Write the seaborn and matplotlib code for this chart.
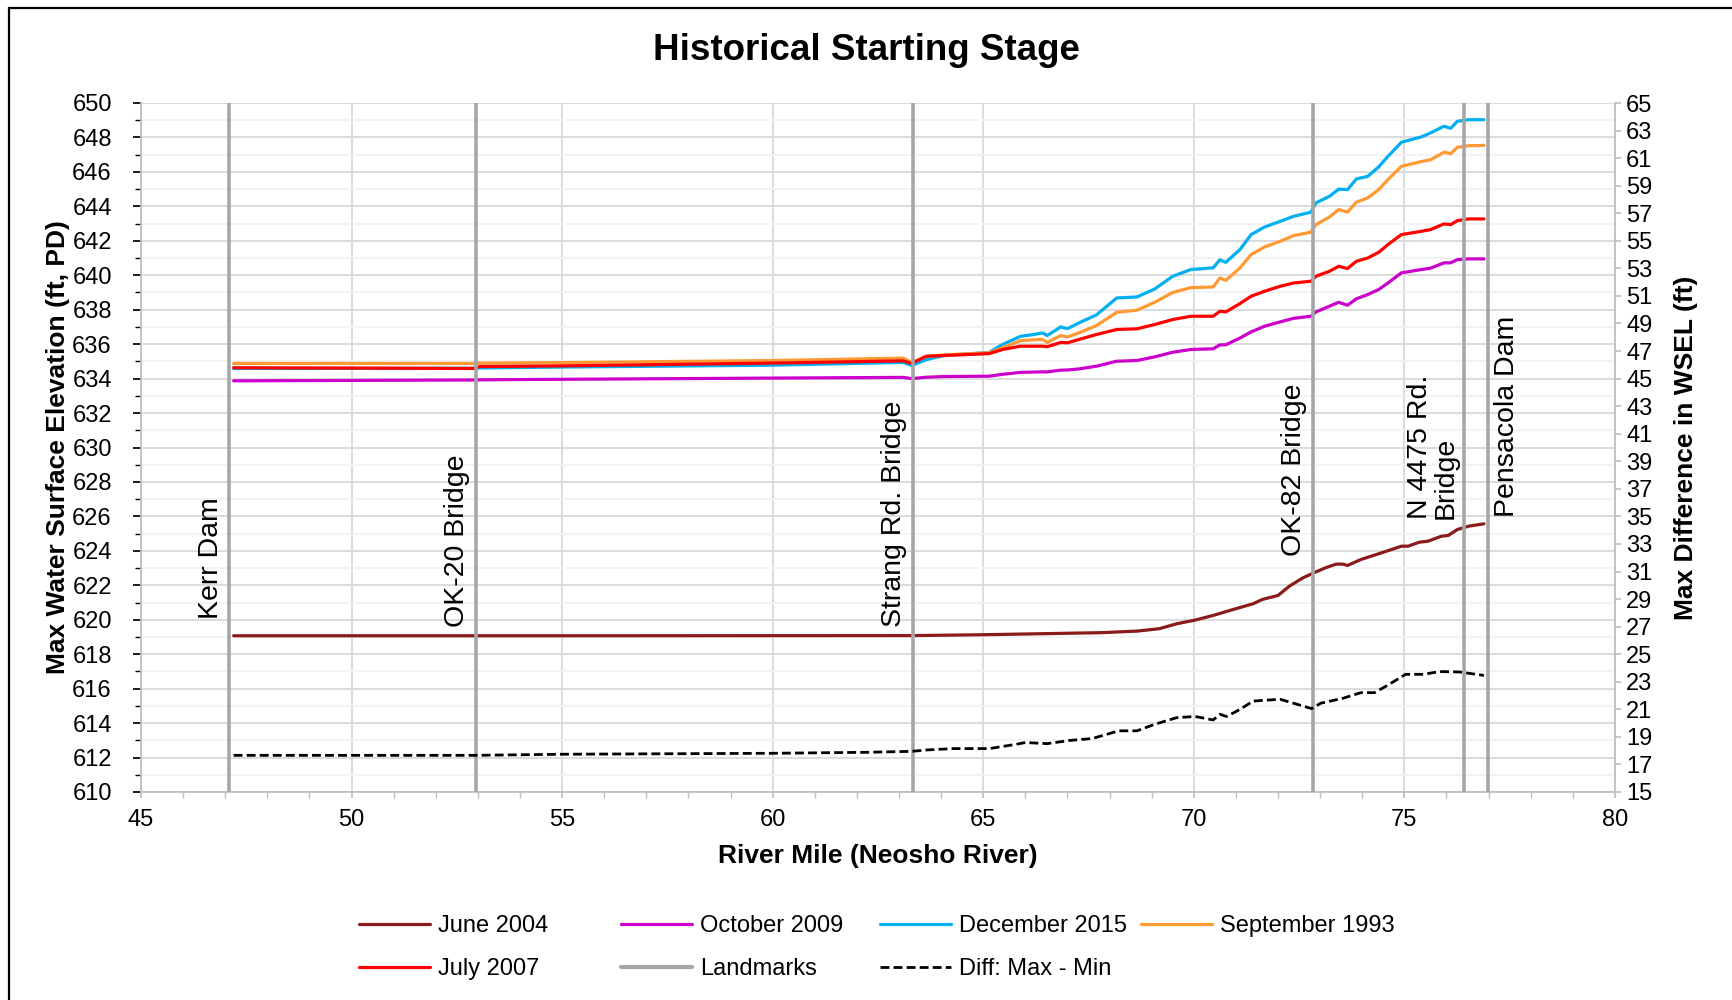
import seaborn as sns
import matplotlib.pyplot as plt
import numpy as np
import pandas as pd
from matplotlib.lines import Line2D
from matplotlib.patches import Rectangle

# river miles shared by the four upper events
river_mile = [47.2, 52.9, 53.05, 55.0, 60.0, 63.1, 63.3, 63.65, 64.07, 65.14, 65.46, 65.88, 66.2, 66.41,
              66.52, 66.84, 67.0, 67.27, 67.69, 68.17, 68.65, 69.07, 69.5, 69.93, 70.46, 70.62, 70.76,
              71.1, 71.36, 71.68, 72.05, 72.37, 72.78, 72.9, 73.22, 73.44, 73.65, 73.86, 74.13, 74.39,
              74.61, 74.93, 75.4, 75.62, 75.94, 76.1, 76.26, 76.52, 76.89]
dec_2015 = [634.59, 634.6, 634.62, 634.67, 634.78, 634.94, 634.76, 635.1, 635.34, 635.52, 635.98, 636.45,
            636.56, 636.65, 636.5, 637.0, 636.9, 637.23, 637.7, 638.68, 638.74, 639.2, 639.94, 640.33,
            640.43, 640.9, 640.75, 641.5, 642.36, 642.8, 643.13, 643.42, 643.66, 644.2, 644.58, 645.0,
            644.97, 645.59, 645.74, 646.29, 646.9, 647.72, 648.03, 648.26, 648.65, 648.53, 648.94,
            649.03, 649.03]
sep_1993 = [634.88, 634.88, 634.9, 634.93, 635.05, 635.19, 634.94, 635.28, 635.38, 635.5, 635.78, 636.2,
            636.25, 636.27, 636.1, 636.5, 636.42, 636.65, 637.08, 637.85, 637.97, 638.43, 639.0, 639.28,
            639.32, 639.84, 639.7, 640.43, 641.2, 641.64, 641.97, 642.3, 642.5, 642.94, 643.38, 643.81,
            643.67, 644.24, 644.49, 644.97, 645.55, 646.32, 646.6, 646.7, 647.14, 647.06, 647.43,
            647.52, 647.54]
jul_2007 = [634.63, 634.59, 634.7, 634.74, 634.9, 635.03, 634.88, 635.3, 635.34, 635.45, 635.69, 635.88,
            635.88, 635.88, 635.85, 636.1, 636.08, 636.27, 636.56, 636.85, 636.89, 637.14, 637.43, 637.62,
            637.62, 637.91, 637.87, 638.36, 638.78, 639.07, 639.36, 639.55, 639.65, 639.94, 640.23,
            640.52, 640.39, 640.81, 641.0, 641.33, 641.78, 642.36, 642.55, 642.65, 642.98, 642.94,
            643.17, 643.27, 643.27]
oct_2009 = [633.87, 633.92, 633.93, 633.96, 634.03, 634.07, 634.0, 634.08, 634.12, 634.14, 634.25, 634.36,
            634.38, 634.39, 634.39, 634.49, 634.5, 634.56, 634.72, 635.01, 635.05, 635.26, 635.53, 635.69,
            635.73, 635.96, 635.96, 636.36, 636.71, 637.04, 637.29, 637.5, 637.62, 637.87, 638.2, 638.43,
            638.26, 638.63, 638.88, 639.17, 639.55, 640.14, 640.33, 640.41, 640.72, 640.72, 640.91,
            640.95, 640.95]

jun_mile = [47.2, 55.0, 63.3, 65.0, 67.8, 68.65, 69.18, 69.6, 70.03, 70.46, 70.94, 71.41, 71.63, 72.0,
            72.27, 72.59, 72.82, 73.12, 73.38, 73.54, 73.65, 73.97, 74.39, 74.93, 75.09, 75.35, 75.56,
            75.88, 76.04, 76.26, 76.52, 76.89]
jun_2004 = [619.07, 619.07, 619.08, 619.13, 619.25, 619.34, 619.48, 619.77, 619.98, 620.25, 620.6, 620.93,
            621.18, 621.41, 621.95, 622.43, 622.69, 623.01, 623.23, 623.23, 623.15, 623.5, 623.83, 624.27,
            624.27, 624.5, 624.56, 624.85, 624.89, 625.24, 625.43, 625.57]

diff_mile = [47.2, 52.94, 55.0, 60.0, 62.2, 63.3, 63.65, 64.29, 65.14, 65.78, 66.0, 66.52, 67.05, 67.59,
             68.22, 68.65, 69.07, 69.6, 70.03, 70.46, 70.62, 70.78, 71.1, 71.41, 72.05, 72.37, 72.8,
             73.01, 73.54, 73.97, 74.29, 74.6, 75.03, 75.46, 75.83, 76.31, 76.89]
diff_wsel = [17.66, 17.66, 17.74, 17.81, 17.88, 17.95, 18.05, 18.15, 18.15, 18.46, 18.59, 18.51, 18.74,
             18.88, 19.44, 19.44, 19.91, 20.4, 20.48, 20.23, 20.64, 20.48, 21.0, 21.6, 21.73, 21.44,
             21.05, 21.44, 21.8, 22.21, 22.21, 22.74, 23.54, 23.54, 23.74, 23.71, 23.46]

landmark_mile = [47.1, 52.95, 63.33, 72.82, 76.41, 76.99]
landmark_names = ['Kerr Dam', 'OK-20 Bridge', 'Strang Rd. Bridge', 'OK-82 Bridge', 'N 4475 Rd.\nBridge',
                  'Pensacola Dam']
landmark_text_y = [620.05, 619.6, 619.6, 623.7, 625.85, 625.95]

events = ['June 2004', 'October 2009', 'December 2015', 'September 1993', 'July 2007']
palette = {'June 2004': '#8B1A1A', 'October 2009': '#CC00CC', 'December 2015': '#00B0F0',
           'September 1993': '#FF9933', 'July 2007': '#FF0000'}

df = pd.concat([
    pd.DataFrame({'mile': jun_mile, 'wsel': jun_2004, 'event': 'June 2004'}),
    pd.DataFrame({'mile': river_mile, 'wsel': oct_2009, 'event': 'October 2009'}),
    pd.DataFrame({'mile': river_mile, 'wsel': dec_2015, 'event': 'December 2015'}),
    pd.DataFrame({'mile': river_mile, 'wsel': sep_1993, 'event': 'September 1993'}),
    pd.DataFrame({'mile': river_mile, 'wsel': jul_2007, 'event': 'July 2007'}),
])

sns.set_theme(style='white')
plt.rcParams['font.family'] = ['Liberation Sans', 'DejaVu Sans']
plt.rcParams['text.color'] = 'black'
plt.rcParams['axes.labelcolor'] = 'black'
plt.rcParams['xtick.color'] = 'black'
plt.rcParams['ytick.color'] = 'black'

fig, ax = plt.subplots(figsize=(17.32, 10), dpi=100)
fig.subplots_adjust(left=0.0814, right=0.9324, top=0.897, bottom=0.208)

sns.lineplot(data=df, x='mile', y='wsel', hue='event', hue_order=events, palette=palette,
             estimator=None, lw=2.3, legend=False, ax=ax, zorder=2)

gray = '#A6A6A6'
for m, name, ty in zip(landmark_mile, landmark_names, landmark_text_y):
    ax.axvline(m, color=gray, lw=2.6, zorder=3)
    right_side = name == 'Pensacola Dam'
    ax.annotate(name, xy=(m, ty), xytext=(4 if right_side else -4, 0), textcoords='offset points',
                rotation=90, ha='left' if right_side else 'right', va='bottom',
                multialignment='left', fontsize=20.5, color='black', linespacing=0.95)

ax.set_xlim(45, 80)
ax.set_ylim(610, 650)
ax.set_xticks(np.arange(45, 81, 5))
ax.set_xticks(np.arange(45, 81, 1), minor=True)
ax.set_yticks(np.arange(610, 651, 2))
ax.set_yticks(np.arange(610, 651, 1), minor=True)
ax.grid(which='major', axis='both', color='#D9D9D9', lw=1.3, zorder=0)
ax.grid(which='minor', axis='y', color='#F2F2F2', lw=1.3, zorder=0)
ax.tick_params(axis='x', which='both', bottom=True, direction='out', length=4, color='#BFBFBF',
               labelcolor='black', labelsize=17, pad=8)
ax.tick_params(axis='y', which='both', left=False, labelcolor='black', labelsize=17, pad=15)
for s in ['top', 'right']:
    ax.spines[s].set_visible(False)
for s in ['left', 'bottom']:
    ax.spines[s].set_color('#BFBFBF')
    ax.spines[s].set_linewidth(1.3)

ax.set_xlabel('River Mile (Neosho River)', fontsize=19, fontweight='bold', color='black')
ax.set_ylabel('Max Water Surface Elevation (ft, PD)', fontsize=19, fontweight='bold', color='black')
ax.xaxis.set_label_coords(0.5, -0.0755)
ax.yaxis.set_label_coords(-0.048, 0.5)

ax2 = ax.twinx()
sns.lineplot(x=diff_mile, y=diff_wsel, ax=ax2, color='black', lw=2.0, linestyle=(0, (3.2, 1.5)))
ax2.set_ylim(15, 65)
ax2.set_yticks(np.arange(15, 66, 2))
ax2.grid(False)
ax2.tick_params(axis='y', right=True, direction='out', length=4, color='#BFBFBF', labelcolor='black',
                labelsize=17, pad=4)
for s in ['top', 'left', 'bottom']:
    ax2.spines[s].set_visible(False)
ax2.spines['right'].set_color('#BFBFBF')
ax2.spines['right'].set_linewidth(1.3)
ax2.set_ylabel('Max Difference in WSEL (ft)', fontsize=19, fontweight='bold', color='black')
ax2.yaxis.set_label_coords(1.040, 0.5)

fig.suptitle('Historical Starting Stage', fontsize=26.5, fontweight='bold', y=0.95, va='center',
             color='black')

# legend: Excel-like uniform columns, one entry at a time
entries = [
    (Line2D([], [], color=palette['June 2004'], lw=2.3), 'June 2004', 0, 0),
    (Line2D([], [], color=palette['October 2009'], lw=2.3), 'October 2009', 1, 0),
    (Line2D([], [], color=palette['December 2015'], lw=2.3), 'December 2015', 2, 0),
    (Line2D([], [], color=palette['September 1993'], lw=2.3), 'September 1993', 3, 0),
    (Line2D([], [], color=palette['July 2007'], lw=2.3), 'July 2007', 0, 1),
    (Line2D([], [], color=gray, lw=3), 'Landmarks', 1, 1),
    (Line2D([], [], color='black', lw=2.0, linestyle=(0, (3.2, 1.5))), 'Diff: Max - Min', 2, 1),
]
col_x = [359 / 1732, 621 / 1732, 880 / 1732, 1141 / 1732]
row_y = [0.074, 0.031]
for h, lab, c, r in entries:
    fig.legend([h], [lab], loc='center left', bbox_to_anchor=(col_x[c], row_y[r]), frameon=False,
               fontsize=17, handlelength=3.0, handletextpad=0.35, borderpad=0, borderaxespad=0,
               labelcolor='black')

fig.patches.append(Rectangle((0.0052, -0.1), 1.2, 1.092, transform=fig.transFigure, fill=False,
                             edgecolor='black', lw=1.6))

plt.savefig('out.png', dpi=100)
